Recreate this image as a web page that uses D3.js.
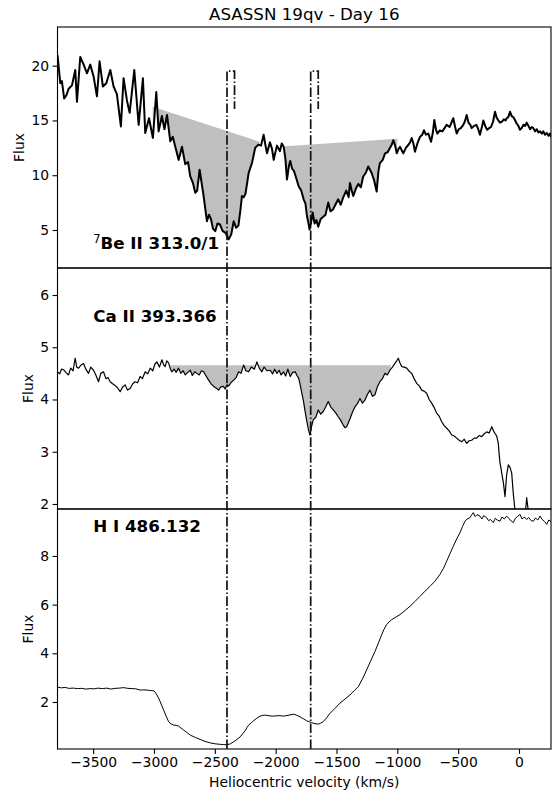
<!DOCTYPE html>
<html>
<head>
<meta charset="utf-8">
<script src="https://cdn.jsdelivr.net/npm/d3@7"></script>
<style>
body { margin: 0; background: #fff; }
text { font-family: "DejaVu Sans", sans-serif; fill: #000; }
</style>
</head>
<body>
<div id="chart"></div>
<script>
// velocity (km/s), flux pairs
var beII = [
[-3793,20.97],[-3770,18.4],[-3757,18.6],[-3738,17.0],[-3720,17.3],[-3701,17.9],[-3674,18.2],[-3647,19.6],[-3633,16.7],
[-3606,20.8],[-3578,20.1],[-3551,19.3],[-3524,20.1],[-3496,19.0],[-3469,17.2],[-3447,20.4],[-3420,18.1],[-3392,18.4],
[-3359,19.6],[-3332,18.1],[-3305,17.4],[-3272,14.45],[-3250,18.85],[-3222,16.8],[-3200,15.7],[-3162,19.6],[-3126,14.6],
[-3091,18.85],[-3072,13.85],[-3041,15.2],[-3009,13.4],[-2981,17.6],[-2962,14.0],[-2935,15.4],[-2914,14.2],[-2893,15.5],
[-2866,13.1],[-2845,13.5],[-2825,12.6],[-2797,11.4],[-2770,12.6],[-2743,11.0],[-2720,11.2],[-2702,9.9],[-2680,9.3],
[-2661,8.4],[-2645,8.6],[-2625,10.5],[-2592,8.1],[-2565,5.8],[-2548,6.4],[-2532,6.0],[-2515,5.1],[-2496,4.9],[-2478,5.6],
[-2458,5.5],[-2435,4.9],[-2414,4.77],[-2386,4.15],[-2365,4.6],[-2345,5.8],[-2325,5.2],[-2306,5.4],[-2290,6.8],[-2277,8.1],
[-2262,8.0],[-2248,8.3],[-2222,10.2],[-2195,11.1],[-2168,12.5],[-2140,12.8],[-2120,12.7],[-2099,13.7],[-2085,12.8],
[-2071,12.0],[-2047,13.0],[-2030,12.4],[-2016,11.4],[-2000,12.2],[-1989,12.7],[-1965,12.2],[-1950,12.9],[-1934,12.6],
[-1920,11.5],[-1907,9.6],[-1890,10.9],[-1880,11.3],[-1865,10.6],[-1850,10.4],[-1830,9.7],[-1811,9.0],[-1790,8.6],
[-1770,7.8],[-1755,7.4],[-1743,6.3],[-1730,5.6],[-1722,5.05],[-1710,5.6],[-1696,6.6],[-1680,5.6],[-1665,5.9],[-1650,5.3],
[-1630,6.0],[-1609,6.2],[-1590,6.4],[-1568,7.5],[-1550,6.7],[-1527,6.9],[-1505,7.4],[-1486,7.8],[-1465,7.3],[-1444,8.0],
[-1420,8.6],[-1400,8.0],[-1389,9.3],[-1375,8.6],[-1362,8.1],[-1340,8.8],[-1321,9.2],[-1300,8.9],[-1280,9.9],[-1260,10.2],
[-1239,10.8],[-1225,10.5],[-1211,10.2],[-1190,9.5],[-1170,8.5],[-1155,10.4],[-1143,11.1],[-1120,11.4],[-1101,12.0],
[-1080,12.1],[-1060,12.5],[-1045,12.8],[-1033,13.2],[-1018,12.7],[-1005,12.0],[-990,12.4],[-978,12.6],[-965,12.3],
[-951,12.0],[-930,12.5],[-910,12.76],[-895,13.0],[-882,13.4],[-868,12.9],[-855,12.15],[-835,12.9],[-814,13.5],[-795,13.7],
[-781,14.1],[-765,13.7],[-745,13.8],[-723,13.06],[-708,13.9],[-696,15.04],[-683,14.2],[-671,13.8],[-650,14.1],[-630,14.0],
[-612,14.3],[-595,14.6],[-570,14.4],[-555,14.8],[-540,15.2],[-525,14.4],[-512,13.8],[-495,14.2],[-478,14.3],[-458,14.6],
[-445,14.9],[-430,15.5],[-415,14.8],[-400,14.6],[-389,14.3],[-370,14.5],[-350,14.6],[-335,14.2],[-321,13.7],[-305,14.4],
[-293,15.0],[-278,14.5],[-262,14.15],[-245,14.3],[-230,14.4],[-213,14.9],[-197,15.8],[-185,15.3],[-170,15.0],[-156,14.8],
[-140,14.9],[-125,15.1],[-110,15.0],[-101,15.2],[-88,15.3],[-74,15.8],[-60,15.4],[-46,15.3],[-33,15.04],[-18,14.7],
[-5,14.5],[8,14.15],[22,14.3],[37,14.6],[50,14.5],[63,14.8],[78,14.5],[92,14.2],[105,14.4],[118,14.3],[132,14.0],
[146,14.2],[160,13.9],[173,14.0],[188,13.8],[200,14.0],[214,13.7],[228,13.85],[242,13.6],[254,13.8],[263,13.5]
];

var caII = [
[-3793,4.53],[-3775,4.49],[-3760,4.58],[-3743,4.57],[-3725,4.52],[-3702,4.47],[-3685,4.60],[-3665,4.55],[-3648,4.79],
[-3635,4.62],[-3620,4.60],[-3600,4.66],[-3579,4.69],[-3560,4.58],[-3538,4.50],[-3520,4.62],[-3497,4.56],[-3478,4.47],
[-3456,4.34],[-3437,4.50],[-3415,4.53],[-3395,4.40],[-3378,4.42],[-3360,4.34],[-3340,4.30],[-3320,4.27],[-3298,4.22],
[-3278,4.15],[-3258,4.24],[-3237,4.28],[-3218,4.18],[-3196,4.21],[-3175,4.30],[-3155,4.34],[-3135,4.32],[-3114,4.44],
[-3095,4.40],[-3072,4.53],[-3052,4.49],[-3031,4.60],[-3010,4.55],[-2992,4.68],[-2976,4.72],[-2955,4.62],[-2935,4.76],
[-2920,4.66],[-2908,4.63],[-2895,4.74],[-2880,4.70],[-2865,4.58],[-2853,4.53],[-2835,4.58],[-2818,4.52],[-2798,4.60],
[-2780,4.50],[-2760,4.55],[-2743,4.47],[-2722,4.52],[-2702,4.56],[-2685,4.46],[-2665,4.53],[-2647,4.50],[-2628,4.47],
[-2610,4.55],[-2592,4.53],[-2572,4.45],[-2551,4.37],[-2530,4.30],[-2510,4.25],[-2490,4.22],[-2469,4.18],[-2450,4.24],
[-2428,4.25],[-2415,4.20],[-2401,4.28],[-2385,4.26],[-2365,4.33],[-2345,4.37],[-2325,4.42],[-2304,4.53],[-2285,4.50],
[-2263,4.66],[-2245,4.55],[-2222,4.53],[-2200,4.62],[-2175,4.58],[-2154,4.72],[-2135,4.60],[-2113,4.53],[-2095,4.62],
[-2070,4.55],[-2045,4.56],[-2025,4.49],[-2008,4.58],[-1990,4.50],[-1972,4.56],[-1955,4.47],[-1935,4.53],[-1918,4.45],
[-1900,4.58],[-1880,4.44],[-1860,4.52],[-1839,4.53],[-1825,4.46],[-1811,4.41],[-1800,4.30],[-1785,4.12],[-1773,3.99],
[-1760,3.80],[-1746,3.61],[-1730,3.42],[-1718,3.32],[-1705,3.48],[-1691,3.61],[-1670,3.66],[-1650,3.80],[-1630,3.72],
[-1609,3.77],[-1590,3.85],[-1568,3.96],[-1548,3.86],[-1527,3.80],[-1505,3.74],[-1486,3.67],[-1465,3.60],[-1445,3.51],
[-1430,3.46],[-1417,3.48],[-1403,3.55],[-1389,3.63],[-1368,3.76],[-1348,3.86],[-1328,3.92],[-1307,4.02],[-1287,3.93],
[-1266,3.99],[-1245,4.10],[-1225,4.18],[-1205,4.06],[-1184,4.09],[-1163,4.25],[-1143,4.34],[-1122,4.40],[-1102,4.50],
[-1082,4.47],[-1061,4.56],[-1040,4.62],[-1020,4.69],[-1005,4.74],[-992,4.79],[-978,4.70],[-964,4.63],[-943,4.62],
[-923,4.60],[-902,4.54],[-882,4.50],[-862,4.40],[-841,4.31],[-820,4.26],[-800,4.18],[-780,4.16],[-759,4.12],[-738,4.00],
[-718,3.93],[-698,3.85],[-677,3.74],[-656,3.68],[-636,3.58],[-615,3.50],[-594,3.45],[-574,3.40],[-553,3.32],[-533,3.30],
[-512,3.26],[-492,3.22],[-471,3.19],[-450,3.24],[-430,3.16],[-410,3.21],[-389,3.22],[-368,3.26],[-348,3.26],[-328,3.31],
[-307,3.29],[-287,3.34],[-266,3.38],[-245,3.36],[-224,3.48],[-210,3.40],[-197,3.35],[-183,3.30],[-170,3.16],[-163,2.95],
[-156,2.78],[-149,2.70],[-142,2.59],[-128,2.40],[-115,2.14],[-102,2.55],[-88,2.75],[-74,2.70],[-60,2.59],[-47,2.20],
[-33,1.88],[-15,1.70],[0,1.60],[20,1.65],[41,1.75],[55,1.90],[63,2.12],[72,1.95],[90,1.70],[120,1.60],[160,1.55],
[200,1.50],[263,1.45]
];

var hI = [
[-3793,2.61],[-3760,2.58],[-3732,2.60],[-3700,2.56],[-3661,2.57],[-3630,2.55],[-3593,2.56],[-3560,2.53],[-3524,2.55],
[-3490,2.54],[-3461,2.57],[-3425,2.55],[-3387,2.57],[-3355,2.53],[-3321,2.56],[-3285,2.57],[-3250,2.59],[-3215,2.56],
[-3182,2.55],[-3150,2.54],[-3113,2.49],[-3085,2.50],[-3058,2.49],[-3030,2.47],[-3003,2.46],[-2990,2.40],[-2976,2.29],
[-2962,2.16],[-2949,2.01],[-2935,1.84],[-2921,1.67],[-2900,1.42],[-2880,1.19],[-2860,1.10],[-2839,1.05],[-2818,1.04],
[-2798,1.01],[-2778,0.93],[-2757,0.85],[-2730,0.75],[-2702,0.64],[-2660,0.54],[-2620,0.46],[-2580,0.38],[-2538,0.32],
[-2497,0.28],[-2456,0.26],[-2428,0.25],[-2401,0.24],[-2373,0.28],[-2346,0.36],[-2318,0.46],[-2291,0.57],[-2270,0.70],
[-2250,0.82],[-2236,0.95],[-2222,1.05],[-2200,1.15],[-2181,1.23],[-2155,1.33],[-2127,1.42],[-2105,1.45],[-2086,1.46],
[-2050,1.43],[-2017,1.42],[-1975,1.44],[-1934,1.42],[-1890,1.46],[-1852,1.50],[-1825,1.45],[-1800,1.39],[-1772,1.31],
[-1746,1.23],[-1725,1.19],[-1704,1.15],[-1677,1.11],[-1650,1.09],[-1630,1.13],[-1609,1.19],[-1580,1.36],[-1554,1.53],
[-1512,1.74],[-1472,1.95],[-1430,2.12],[-1389,2.29],[-1355,2.46],[-1321,2.63],[-1286,2.95],[-1252,3.32],[-1218,3.70],
[-1184,4.07],[-1155,4.43],[-1129,4.76],[-1110,4.98],[-1088,5.18],[-1068,5.29],[-1047,5.38],[-1012,5.49],[-978,5.59],
[-937,5.76],[-896,5.93],[-855,6.13],[-814,6.34],[-773,6.55],[-732,6.75],[-691,6.96],[-650,7.24],[-620,7.50],[-594,7.79],
[-567,8.10],[-540,8.40],[-512,8.70],[-485,8.96],[-465,9.20],[-444,9.43],[-425,9.52],[-403,9.57],[-390,9.68],[-376,9.78],
[-360,9.62],[-345,9.70],[-321,9.64],[-305,9.52],[-290,9.66],[-266,9.57],[-250,9.45],[-235,9.50],[-211,9.37],[-195,9.55],
[-180,9.48],[-156,9.43],[-140,9.60],[-120,9.52],[-101,9.64],[-85,9.55],[-65,9.44],[-47,9.37],[-30,9.55],[-12,9.62],
[8,9.71],[25,9.52],[45,9.60],[63,9.50],[80,9.58],[100,9.45],[118,9.43],[135,9.56],[155,9.48],[173,9.64],[190,9.50],
[210,9.42],[228,9.30],[245,9.48],[263,9.40]
];

// continuum levels used for the shaded absorption
var beCont = [[[-3010,16.25],[-2130,13.05]], [[-1924,12.64],[-998,13.34]]];
var caCont = [[[-2870,4.655],[-1050,4.655]]];

// Be II doublet markers (main line, second component), marker top / bottom flux
var markVel = [[-2400,-2338],[-1712,-1650]];
var markFlux = [19.5, 16.05];

var xTicks = [-3500,-3000,-2500,-2000,-1500,-1000,-500,0];
var yTicks = [[5,10,15,20],[2,3,4,5,6],[2,4,6,8]];
var labels = ["Be II 313.0/1","Ca II 393.366","H I 486.132"];
var labelY = [3.27, 5.49, 9.0];
var yDomains = [[1.53,23.53],[1.904,6.517],[0.068,9.93]];

var width = 552, height = 792;
var left = 57.5, right = 551;
var tops = [27, 268, 509], bottoms = [268, 509, 749];
var lineW = [2.0, 1.2, 1.0];

var svg = d3.select("#chart").append("svg")
  .attr("width", width).attr("height", height);

var x = d3.scaleLinear().domain([-3793, 263]).range([left, right]);
var ys = yDomains.map(function(d, i) {
  return d3.scaleLinear().domain(d).range([bottoms[i], tops[i]]);
});

var series = [beII, caII, hI];
var conts = [beCont, caCont, []];

series.forEach(function(data, i) {
  var y = ys[i];
  svg.append("clipPath").attr("id", "clip" + i)
    .append("rect").attr("x", left).attr("y", tops[i])
    .attr("width", right - left).attr("height", bottoms[i] - tops[i]);

  var g = svg.append("g").attr("clip-path", "url(#clip" + i + ")");

  // shaded region between continuum and spectrum
  conts[i].forEach(function(c) {
    var pts = [c[0]].concat(data.filter(function(d) {
      return d[0] > c[0][0] && d[0] < c[1][0];
    })).concat([c[1]]);
    g.append("path")
      .attr("d", d3.line().x(function(d) { return x(d[0]); }).y(function(d) { return y(d[1]); })(pts) + "Z")
      .attr("fill", "#bfbfbf").attr("stroke", "none");
  });

  g.append("path").datum(data)
    .attr("d", d3.line().x(function(d) { return x(d[0]); }).y(function(d) { return y(d[1]); }))
    .attr("fill", "none").attr("stroke", "#000")
    .attr("stroke-width", lineW[i]).attr("stroke-linejoin", "round");

  var ax = svg.append("g").attr("transform", "translate(" + left + ",0)")
    .call(d3.axisLeft(y).tickValues(yTicks[i]).tickSize(4.9).tickPadding(3.5).tickFormat(d3.format("d")));
  ax.select(".domain").remove();
  ax.selectAll("line").attr("stroke", "#000").attr("stroke-width", 1.1);
  ax.selectAll("text").attr("font-size", 13.9).attr("font-family", "DejaVu Sans").attr("fill", "#000");

  svg.append("rect").attr("x", left).attr("y", tops[i])
    .attr("width", right - left).attr("height", bottoms[i] - tops[i])
    .attr("fill", "none").attr("stroke", "#000").attr("stroke-width", 1.1);

  svg.append("text")
    .attr("transform", "translate(" + (i === 0 ? 19 : 28) + "," + ((tops[i] + bottoms[i]) / 2) + ") rotate(-90)")
    .attr("text-anchor", "middle").attr("dominant-baseline", "central")
    .attr("font-size", 13.9).text("Flux");

  var t = svg.append("text").attr("x", x(-3500)).attr("y", y(labelY[i]))
    .attr("font-size", 16.7).attr("font-weight", "bold");
  if (i === 0) {
    t.append("tspan").attr("font-weight", "normal").attr("font-size", 11.5).attr("dy", -6).text("7");
    t.append("tspan").attr("dy", 6).text(labels[i]);
  } else {
    t.text(labels[i]);
  }
});

var xa = svg.append("g").attr("transform", "translate(0," + bottoms[2] + ")")
  .call(d3.axisBottom(x).tickValues(xTicks).tickSize(4.9).tickPadding(3.5).tickFormat(d3.format("d")));
xa.select(".domain").remove();
xa.selectAll("line").attr("stroke", "#000").attr("stroke-width", 1.1);
xa.selectAll("text").attr("font-size", 13.9).attr("font-family", "DejaVu Sans").attr("fill", "#000");

svg.append("text").attr("x", (left + right) / 2).attr("y", 787)
  .attr("text-anchor", "middle").attr("font-size", 13.9)
  .text("Heliocentric velocity (km/s)");

svg.append("text").attr("x", (left + right) / 2).attr("y", 19.5)
  .attr("text-anchor", "middle").attr("font-size", 16.7)
  .text("ASASSN 19qv - Day 16");

// dash-dot markers through all panels
markVel.forEach(function(m) {
  var p = d3.path();
  p.moveTo(x(m[0]), bottoms[2]);
  p.lineTo(x(m[0]), ys[0](markFlux[0]));
  p.lineTo(x(m[1]), ys[0](markFlux[0]));
  p.lineTo(x(m[1]), ys[0](markFlux[1]));
  svg.append("path").attr("d", p.toString())
    .attr("fill", "none").attr("stroke", "#111").attr("stroke-width", 1.7)
    .attr("stroke-dasharray", "9.6,2.4,1.5,2.4");
});
</script>
</body>
</html>
